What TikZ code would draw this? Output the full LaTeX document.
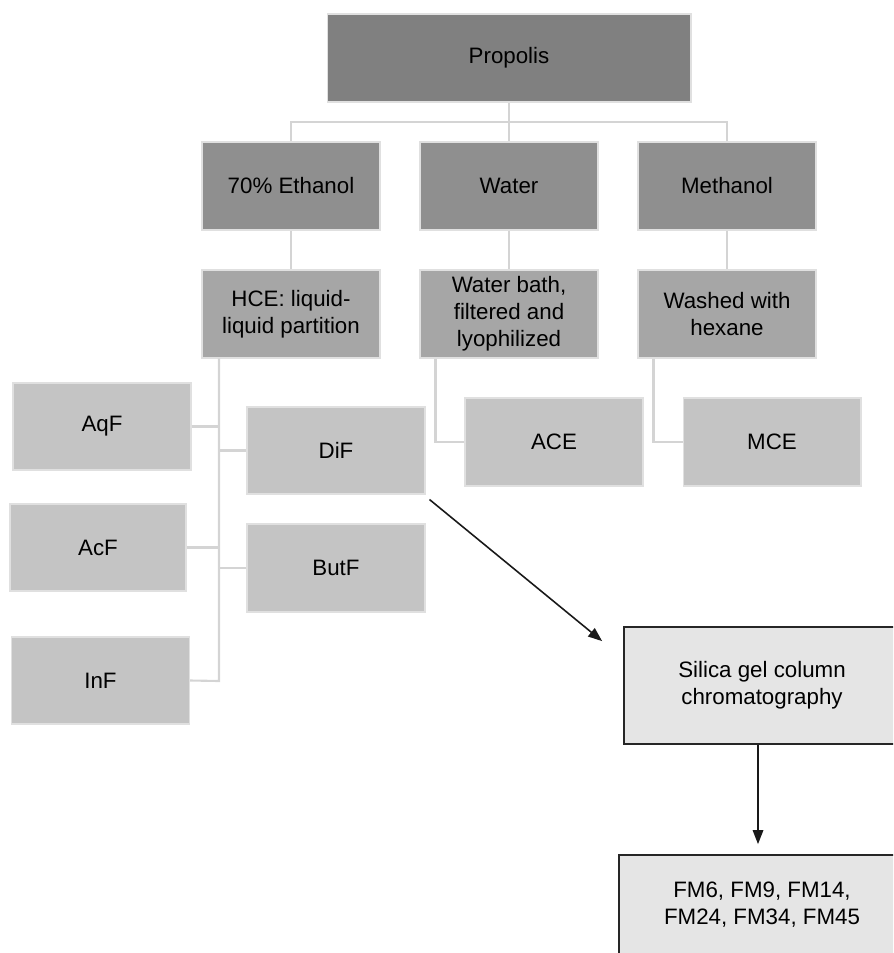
\documentclass[tikz,border=0pt]{standalone}
\usepackage{fontspec}
\setmainfont{Liberation Sans}
\usepackage{tikz}
\usetikzlibrary{arrows.meta,calc,positioning}
\newcommand{\boxfont}{\fontsize{12.7}{15.4}\selectfont}

\begin{document}
\begin{tikzpicture}[x=0.02cm,y=-0.02cm,>={Triangle[length=8pt,width=6pt]},
  box/.style={draw=black!12,line width=0.6pt,minimum width=3.56cm,minimum height=1.76cm,align=center,font=\boxfont},
  topbox/.style={box,fill=black!50,minimum width=7.28cm},
  solvbox/.style={box,fill=black!44},
  treatbox/.style={box,fill=black!35},
  fracbox/.style={box,fill=black!23,minimum height=1.74cm},
  colbox/.style={box,draw=black!85,line width=1pt,fill=black!10,minimum width=5.52cm,minimum height=2.34cm},
  link/.style={draw=black!17,line width=1.2pt},
  flow/.style={->,draw=black!90,line width=0.9pt}]
\path[use as bounding box,clip] (0,0) rectangle (893,953);
% extraction
\node[topbox] (prop) at (509,58) {Propolis};
\node[solvbox] (eth) at (291,186) {70\% Ethanol};
\node[solvbox] (wat) at (509,186) {Water};
\node[solvbox] (meth) at (727,186) {Methanol};
% treatment
\node[treatbox] (hce) at (291,314) {HCE: liquid-\\liquid partition};
\node[treatbox] (bath) at (509,314) {Water bath,\\filtered and\\lyophilized};
\node[treatbox] (wash) at (727,314) {Washed with\\hexane};
% fractions
\node[fracbox] (aqf) at (102,426.5) {AqF};
\node[fracbox,minimum width=3.52cm] (acf) at (98,547.5) {AcF};
\node[fracbox] (inf) at (100.5,680.5) {InF};
\node[fracbox] (dif) at (336,450.5) {DiF};
\node[fracbox,minimum height=1.76cm] (butf) at (336,568) {ButF};
\node[fracbox,minimum height=1.76cm] (ace) at (554,442) {ACE};
\node[fracbox,minimum height=1.76cm] (mce) at (772,442) {MCE};
% column
\node[colbox] (sil) at (762,685.5) {Silica gel column\\chromatography};
\node[colbox,minimum width=5.72cm,minimum height=2cm] (fm) at (762,905) {FM6, FM9, FM14,\\FM24, FM34, FM45};
% tree lines
\coordinate (split) at (509,122);
\draw[link] (prop) -- (split) (split) -- (wat);
\draw[link] (eth.north) |- (split) -| (meth.north);
\draw[link] (eth) -- (hce) (wat) -- (bath) (meth) -- (wash);
\coordinate (hcefoot) at (219,681);
\draw[link] (hce.south -| hcefoot) -- (hcefoot) -- (inf.east);
\draw[link] (aqf.east) -- (aqf.east -| hcefoot) (acf.east) -- (acf.east -| hcefoot);
\draw[link] (dif.west) -- (dif.west -| hcefoot) (butf.west) -- (butf.west -| hcefoot);
\draw[link] ([xshift=0.32cm]bath.south west) |- (ace.west);
\draw[link] ([xshift=0.32cm]wash.south west) |- (mce.west);
% arrows
\draw[flow] ([shift={(4,5)}]dif.south east) -- ([shift={(-21,15)}]sil.north west);
\draw[flow,shorten >=0.2cm] ([xshift=-0.08cm]sil.south) -- ([xshift=-0.08cm]fm.north);
\end{tikzpicture}
\end{document}
